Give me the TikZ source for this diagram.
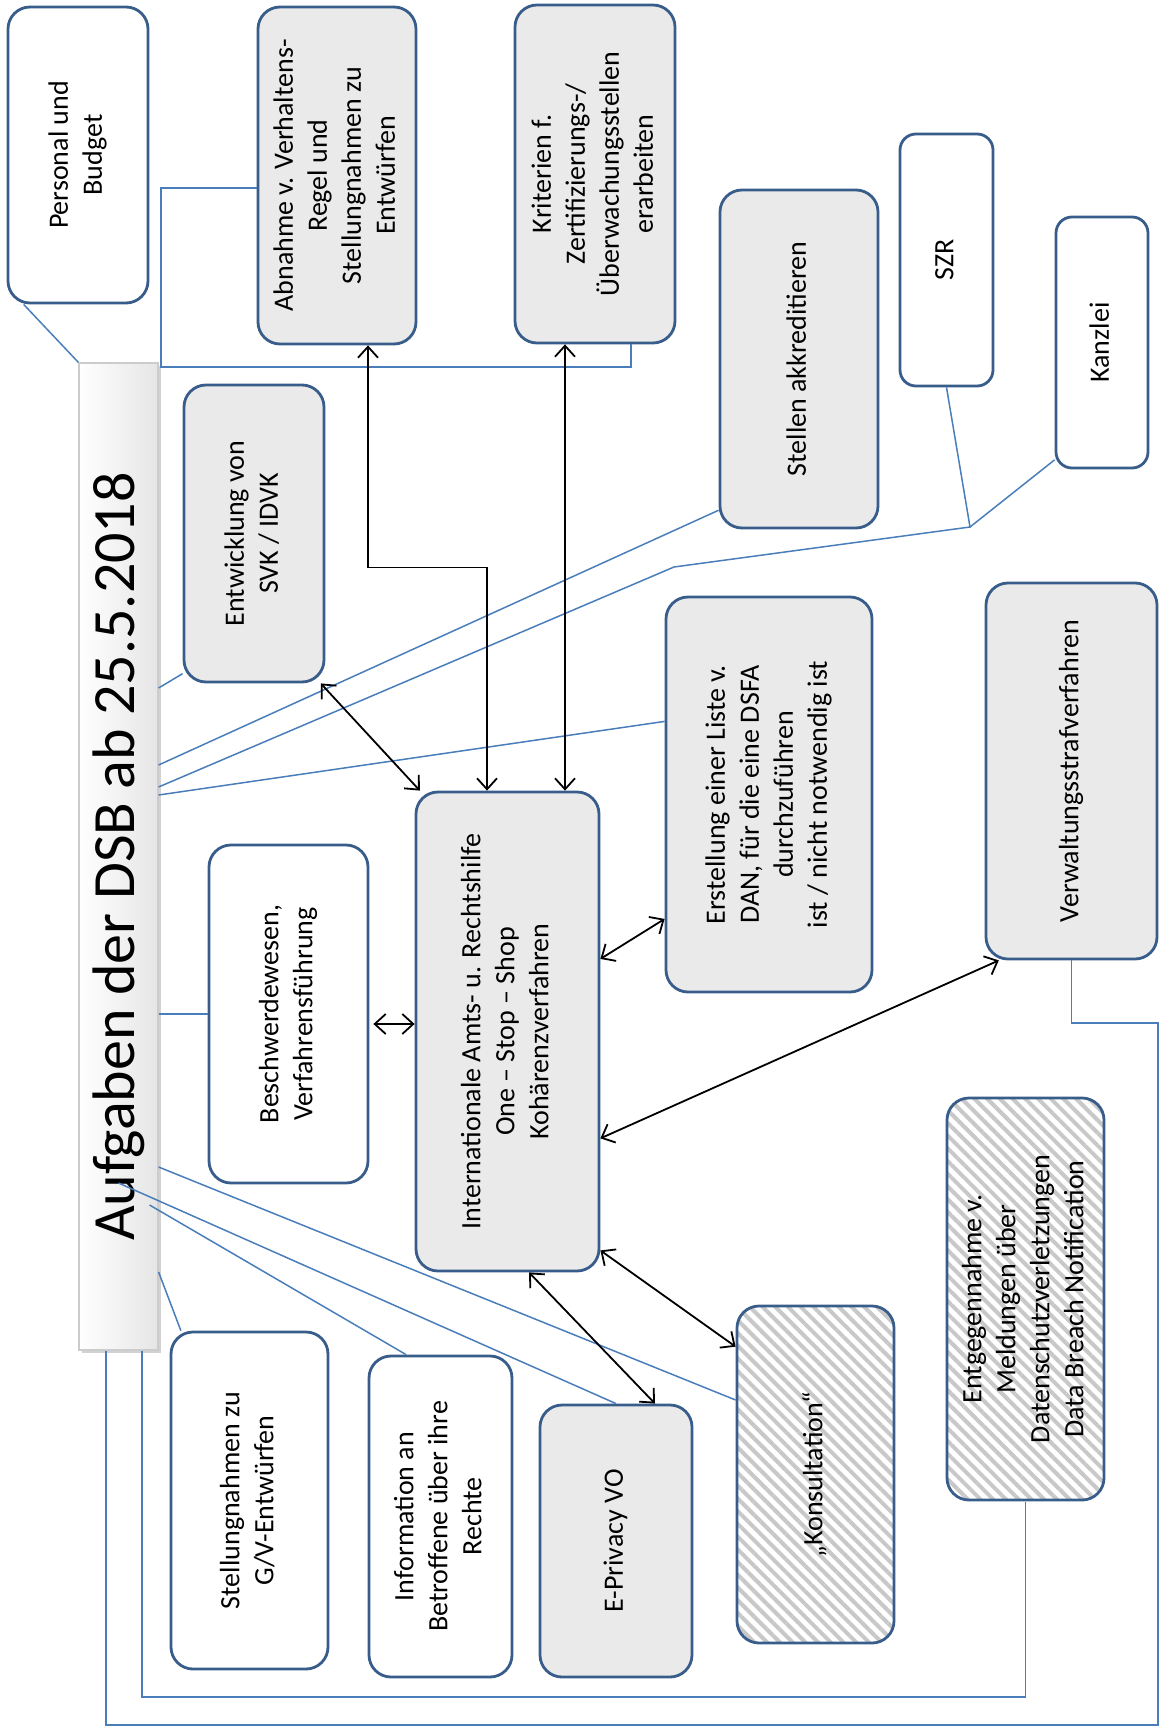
\documentclass[tikz,border=0pt]{standalone}
\usepackage{fontspec}
\setmainfont{Carlito}
\usetikzlibrary{calc,arrows.meta,patterns.meta,shadows}

\definecolor{boxline}{RGB}{56,93,138}
\definecolor{boxgray}{RGB}{234,234,234}
\definecolor{linkblue}{RGB}{74,126,187}
\definecolor{hatchgray}{RGB}{200,200,200}

\newcommand{\vlbl}[1]{\rotatebox{90}{\begin{tabular}{@{}c@{}}#1\end{tabular}}}

\begin{document}
\begin{tikzpicture}[x=1pt, y=-1pt,
      task/.style = {shape=rectangle, rounded corners=22pt, draw=boxline,
        line width=2.8pt, inner sep=0pt, font=\fontsize{28}{34}\selectfont},
      white task/.style = {task, fill=white},
      gray task/.style = {task, fill=boxgray},
      hatch task/.style = {task, pattern={Lines[angle=-45,distance=9pt,line width=4pt]},
        pattern color=hatchgray},
      dims/.style 2 args = {minimum width=#1pt, minimum height=#2pt},
      titlebar/.style = {shape=rectangle, draw=gray!40, line width=1.2pt,
        left color=white, right color=gray!20, inner sep=0pt,
        drop shadow={shadow xshift=3pt, shadow yshift=-3pt, fill=gray!70}},
      link/.style = {draw=linkblue, line width=1.5pt},
      arr/.style = {black, line width=1.8pt, >={Straight Barb[length=11pt,width=20pt]}, <->}]
  \useasboundingbox (0,0) rectangle (1168,1728);

  \node[titlebar, dims={79}{987}] (title) at (118.5,856.5)
    {\rotatebox{90}{\fontsize{60}{70}\selectfont Aufgaben der DSB ab 25.5.2018}};

  % obere Reihe
  \node[white task, dims={140}{296}] (pers) at (78,155) {\vlbl{Personal und\\Budget}};
  \node[gray task, dims={158}{337}] (abn) at (337,175.5)
    {\vlbl{Abnahme v. Verhaltens-\\Regel und\\Stellungnahmen zu\\Entwürfen}};
  \node[gray task, dims={160}{338}] (krit) at (595,174)
    {\vlbl{Kriterien f.\\Zertifizierungs-/\\Überwachungsstellen\\erarbeiten}};
  \node[gray task, dims={158}{338}] (stel) at (799,359) {\vlbl{Stellen akkreditieren}};
  \node[white task, rounded corners=16pt, dims={93}{252}] (szr) at (946.5,260) {\vlbl{SZR}};
  \node[white task, rounded corners=16pt, dims={92}{251}] (kanz) at (1102,342.5) {\vlbl{Kanzlei}};

  % Mitte
  \node[gray task, dims={140}{297}] (entw) at (254,533.5) {\vlbl{Entwicklung von\\SVK / IDVK}};
  \node[gray task, dims={206}{395}] (erst) at (769,794.5)
    {\vlbl{Erstellung einer Liste v.\\DAN, für die eine DSFA\\durchzuführen\\ist / nicht notwendig ist}};
  \node[gray task, dims={171}{376}] (verw) at (1071.5,771) {\vlbl{Verwaltungsstrafverfahren}};
  \node[white task, dims={159}{338}] (besch) at (288.5,1014)
    {\vlbl{Beschwerdewesen,\\Verfahrensführung}};
  \node[gray task, dims={183}{479}] (intl) at (507.5,1031.5)
    {\vlbl{Internationale Amts- u. Rechtshilfe\\One – Stop – Shop\\Kohärenzverfahren}};

  % untere Reihe
  \node[hatch task, dims={157}{402}] (entg) at (1025.5,1299)
    {\vlbl{Entgegennahme v.\\Meldungen über\\Datenschutzverletzungen\\Data Breach Notification}};
  \node[hatch task, dims={157}{337}] (kons) at (815.5,1474.5) {\vlbl{„Konsultation“}};
  \node[white task, dims={157}{337}] (stgn) at (249.5,1500.5)
    {\vlbl{Stellungnahmen zu\\G/V-Entwürfen}};
  \node[white task, dims={143}{321}] (info) at (440.5,1516.5)
    {\vlbl{Information an\\Betroffene über ihre\\Rechte}};
  \node[gray task, dims={152}{272}] (epriv) at (616,1541) {\vlbl{E-Privacy VO}};

  % Verbindungen zur Leiste
  \coordinate (brk) at (161,367);
  \coordinate (knick) at (674,567);
  \coordinate (gabel) at (970,527);
  \coordinate (rand) at (1158,1725);
  \draw[link] (pers.250) -- (title.north west);
  \draw[link] (abn.189) -| (brk) -| (krit.-78);
  \draw[link] (title.east |- 0,688) -- (entw.243);
  \draw[link] (title.east |- 0,765) -- (stel.242);
  \draw[link] (title.east |- 0,787) -- (knick) -- (gabel) -- (szr.south);
  \draw[link] (gabel) -- (kanz.248);
  \draw[link] (title.east |- 0,795) -- (erst.145);
  \draw[link] (title.east |- besch.west) -- (besch.west);
  \draw[link] (title.east |- 0,1167) -- (kons.137);
  \draw[link] (title.center |- 0,1183) -- (epriv.north);
  \draw[link] ($(title.east |- 0,1205)+(-9,0)$) -- (info.102);
  \draw[link] (title.east |- 0,1272) -- (stgn.112);
  \draw[link] (title.south -| 142,0) |- (entg.south |- 0,1697) -- (entg.south);
  \draw[link] (title.south -| 106,0) |- (rand) |- (verw.south |- 0,1023) -- (verw.south);

  % Pfeile zur Amtshilfe
  \draw[arr] (abn.south -| 368,0) -- ++(0,222) -| (intl.north -| 487,0);
  \draw[arr] (krit.south -| 565,0) -- (intl.north -| 565,0);
  \draw[arr] (entw.-66) -- (intl.110);
  \draw[arr] ($(besch.east |- 0,1024)+(4,0)$) -- (intl.west |- 0,1024);
  \draw[arr] (intl.38) -- (erst.230);
  \draw[arr] (intl.-49) -- (verw.249);
  \draw[arr] (intl.south -| 529,0) -- (epriv.north -| 655,0);
  \draw[arr] (intl.-67.5) -- (kons.122);
\end{tikzpicture}
\end{document}
